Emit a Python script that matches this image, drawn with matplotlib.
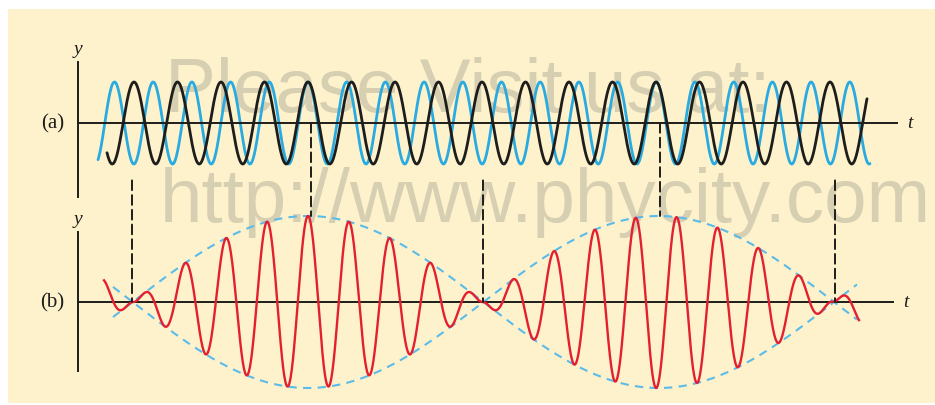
import numpy as np
import matplotlib
matplotlib.use('Agg')
import matplotlib.pyplot as plt
from matplotlib.patches import Rectangle, ConnectionPatch

# values (time in arbitrary units, 1 unit = 10 px)
black_period = 4.35       # slower wave in (a)
blue_period = 3.87        # faster wave in (a)
inphase_time = 23.0       # both waves peak together here
wave_amp = 1.0
black_span = [2.9, 78.9]
blue_span = [2.0, 79.2]
red_span = [2.6, 78.1]
envelope_span = [3.5, 77.9]
node_times = [5.4, 40.5, 75.7]     # waves out of phase -> zero amplitude
inphase_times = [23.3, 58.2]       # waves in phase -> max amplitude
panel_labels = ['(a)', '(b)']

plt.rcParams['lines.scale_dashes'] = False

BLACK = '#1d1d1b'
BLUE = '#29abe2'
ENV_BLUE = '#5bbbe9'
RED = '#e3202f'
CREAM = '#fdf2cc'
SERIF = 'Liberation Serif'

W, H = 935, 406
fig = plt.figure(figsize=(W / 100, H / 100), dpi=100)

# cream panel behind everything
fig.patches.append(Rectangle((8 / W, 2 / H), 1 - 8 / W, (H - 12) / H,
                             transform=fig.transFigure, facecolor=CREAM,
                             edgecolor='none', zorder=-3))

# watermark text
fig.text(165 / W, 1 - 112 / H, 'Please Visit us at:', fontsize=55,
         family='Liberation Sans', color='#d7cfb2', va='baseline', zorder=-2)
fig.text(160 / W, 1 - 222 / H, 'http://www.phycity.com', fontsize=55,
         family='Liberation Sans', color='#d7cfb2', va='baseline', zorder=-2)


def make_axes(left_px, right_px, top_px, bottom_px, zero_px, unit_px):
    ax = fig.add_axes([left_px / W, 1 - bottom_px / H,
                       (right_px - left_px) / W, (bottom_px - top_px) / H])
    ax.set_facecolor('none')
    ax.set_xlim(0, (right_px - left_px) / 10)
    ax.set_ylim(-(bottom_px - zero_px) / unit_px, (zero_px - top_px) / unit_px)
    for side in ['top', 'right']:
        ax.spines[side].set_visible(False)
    ax.spines['bottom'].set_position(('data', 0))
    for side in ['left', 'bottom']:
        ax.spines[side].set_linewidth(1.4)
        ax.spines[side].set_color(BLACK)
    ax.set_xticks([])
    ax.set_yticks([])
    return ax


ax_a = make_axes(78, 897, 63, 198, 124, 41)
ax_b = make_axes(78, 893, 233, 372, 303, 43)

beat_freq = 1 / blue_period - 1 / black_period
carrier_period = 2 / (1 / blue_period + 1 / black_period)

# (a) the two individual waves
t = np.linspace(black_span[0], black_span[1], 2000)
ax_a.plot(t, wave_amp * np.cos(2 * np.pi * (t - inphase_time) / black_period),
          color=BLACK, lw=2.0, zorder=3, solid_capstyle='round')
t = np.linspace(blue_span[0], blue_span[1], 2000)
ax_a.plot(t, wave_amp * np.cos(2 * np.pi * (t - inphase_time) / blue_period),
          color=BLUE, lw=2.0, zorder=2, solid_capstyle='round')

# (b) superposition with its envelope
t = np.linspace(envelope_span[0], envelope_span[1], 1000)
env = 2 * wave_amp * np.cos(np.pi * beat_freq * (t - inphase_time))
for sign in [1, -1]:
    ax_b.plot(t, sign * env, color=ENV_BLUE, lw=1.5, ls=(0, (6, 4.5)),
              clip_on=False, zorder=2)
t = np.linspace(red_span[0], red_span[1], 3000)
env = 2 * wave_amp * np.abs(np.cos(np.pi * beat_freq * (t - inphase_time)))
ax_b.plot(t, env * np.cos(2 * np.pi * (t - inphase_time) / carrier_period),
          color=RED, lw=1.7, clip_on=False, zorder=3)

# dashed guide lines linking the two panels
for tn in node_times:
    fig.add_artist(ConnectionPatch(xyA=(tn, -1.4), coordsA=ax_a.transData,
                                   xyB=(tn, 0), coordsB=ax_b.transData,
                                   color=BLACK, lw=1.4, ls=(0, (7, 3.6))))
for tp in inphase_times:
    fig.add_artist(ConnectionPatch(xyA=(tp, 0), coordsA=ax_a.transData,
                                   xyB=(tp, 2.0), coordsB=ax_b.transData,
                                   color=BLACK, lw=1.4, ls=(0, (7, 3.6))))

# axis labels
for ax, label in zip([ax_a, ax_b], panel_labels):
    ax.annotate(label, xy=(0, 0), xytext=(-14, 0), textcoords='offset pixels',
                ha='right', va='center', fontsize=15, family=SERIF, color=BLACK)
    ax.annotate('y', xy=(0, ax.get_ylim()[1]), xytext=(0, 5),
                textcoords='offset pixels', ha='center', va='bottom',
                fontsize=14, family=SERIF, style='italic', color=BLACK)
    ax.annotate('t', xy=(ax.get_xlim()[1], 0), xytext=(10, 0),
                textcoords='offset pixels', ha='left', va='center',
                fontsize=14, family=SERIF, style='italic', color=BLACK)

fig.savefig('out.png', dpi=100)
